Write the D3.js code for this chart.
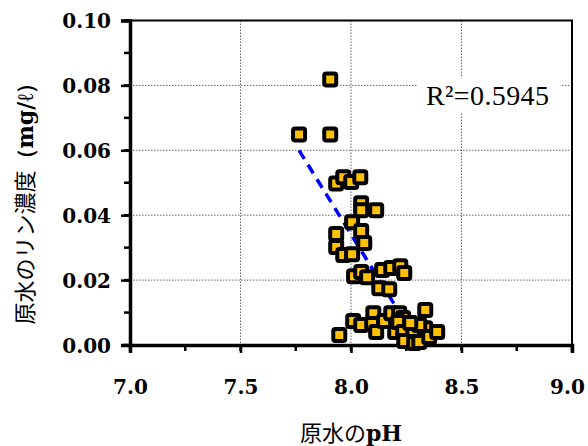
<!DOCTYPE html>
<html>
<head>
<meta charset="utf-8">
<script src="https://cdn.jsdelivr.net/npm/d3@7"></script>
<style>
  body { margin: 0; background: #fff; }
  svg { display: block; }
</style>
</head>
<body>
<script>
// pH of raw water
var phValues = [7.906, 7.765, 7.906, 7.933, 7.965, 8.001, 8.042, 8.046, 8.046, 8.114,
    8.005, 8.046, 7.933, 8.060, 7.933, 7.965, 8.005, 8.014, 8.046, 8.073,
    8.141, 8.182, 8.223, 8.241, 8.128, 8.173, 7.947, 8.010, 8.046, 8.101,
    8.096, 8.114, 8.150, 8.182, 8.200, 8.218, 8.236, 8.214, 8.236, 8.241,
    8.282, 8.286, 8.309, 8.336, 8.336, 8.354, 8.390, 8.309, 8.268];
// phosphorus concentration (mg/l)
var pValues = [0.0818, 0.0649, 0.0649, 0.0498, 0.0517, 0.0502, 0.0517, 0.0437, 0.0415, 0.0415,
    0.0378, 0.0351, 0.0342, 0.0314, 0.0302, 0.0277, 0.0280, 0.0212, 0.0225, 0.0209,
    0.0231, 0.0237, 0.0243, 0.0222, 0.0175, 0.0172, 0.0031, 0.0074, 0.0062, 0.0098,
    0.0065, 0.0040, 0.0074, 0.0098, 0.0040, 0.0098, 0.0083, 0.0071, 0.0040, 0.0012,
    0.0046, 0.0006, 0.0009, 0.0108, 0.0052, 0.0025, 0.0040, 0.0062, 0.0068];
// linear trend line end points
var trendX = [7.765, 8.31];
var trendY = [0.060, 0.0];
var xTicks = [7.0, 7.5, 8.0, 8.5, 9.0];
var yTicks = [0.00, 0.02, 0.04, 0.06, 0.08, 0.10];
var r2Label = "R²=0.5945";

var width = 588, height = 446;
var plotLeft = 130, plotRight = 572, plotTop = 20.5, plotBottom = 345;

var svg = d3.select("body").append("svg")
    .attr("width", width)
    .attr("height", height);

var x = d3.scaleLinear().domain([7, 9]).range([plotLeft, plotRight]);
var y = d3.scaleLinear().domain([0, 0.1]).range([plotBottom, plotTop]);

var numFont = "'DejaVu Serif', serif";
var jpFont = "'Noto Sans CJK JP', sans-serif";

// dotted grid lines
svg.append("g").selectAll("line")
    .data(xTicks.slice(1, -1))
    .enter().append("line")
    .attr("x1", function(d) { return x(d); })
    .attr("x2", function(d) { return x(d); })
    .attr("y1", plotTop)
    .attr("y2", plotBottom)
    .style("stroke", "#666")
    .style("stroke-width", 1)
    .style("stroke-dasharray", "1.5,1.5");
svg.append("g").selectAll("line")
    .data(yTicks.slice(1, -1))
    .enter().append("line")
    .attr("x1", plotLeft)
    .attr("x2", plotRight)
    .attr("y1", function(d) { return y(d); })
    .attr("y2", function(d) { return y(d); })
    .style("stroke", "#666")
    .style("stroke-width", 1)
    .style("stroke-dasharray", "1.5,1.5");

// thin top / right frame
svg.append("path")
    .attr("d", "M" + plotLeft + "," + plotTop + "H" + plotRight + "V" + plotBottom)
    .style("fill", "none")
    .style("stroke", "#000")
    .style("stroke-width", 2);

// minor ticks
svg.append("g").selectAll("line")
    .data(d3.range(0, 0.1001, 0.01))
    .enter().append("line")
    .attr("x1", plotLeft - 6).attr("x2", plotLeft)
    .attr("y1", function(d) { return y(d); })
    .attr("y2", function(d) { return y(d); })
    .style("stroke", "#000").style("stroke-width", 2.5);
svg.append("g").selectAll("line")
    .data(d3.range(7, 9.001, 0.25))
    .enter().append("line")
    .attr("x1", function(d) { return x(d); })
    .attr("x2", function(d) { return x(d); })
    .attr("y1", plotBottom).attr("y2", plotBottom + 6)
    .style("stroke", "#000").style("stroke-width", 2.5);

// axes
var yAxis = svg.append("g")
    .attr("transform", "translate(" + plotLeft + ",0)")
    .call(d3.axisLeft(y).tickValues(yTicks).tickFormat(d3.format(".2f")).tickSize(9).tickPadding(10));
var xAxis = svg.append("g")
    .attr("transform", "translate(0," + plotBottom + ")")
    .call(d3.axisBottom(x).tickValues(xTicks).tickFormat(d3.format(".1f")).tickSize(8).tickPadding(27));
[xAxis, yAxis].forEach(function(ax) {
    ax.select(".domain").style("stroke-width", 3.5);
    ax.selectAll(".tick line").style("stroke-width", 2.5);
    ax.selectAll("text")
        .style("font-family", numFont)
        .style("font-weight", "bold")
        .style("font-size", "20px")
        .style("fill", "#000");
});
yAxis.selectAll("text").attr("dy", "0.36em");
// last x label sits a little left so it stays inside the page
xAxis.selectAll(".tick text").filter(function(d) { return d === 9; }).attr("dx", -5);

// trend line
svg.append("line")
    .attr("x1", x(trendX[0])).attr("y1", y(trendY[0]))
    .attr("x2", x(trendX[1])).attr("y2", y(trendY[1]))
    .style("stroke", "#0000ff")
    .style("stroke-width", 3.5)
    .style("stroke-dasharray", "10,7");

// data markers
var points = phValues.map(function(d, i) { return {x: d, y: pValues[i]}; });
svg.append("g").selectAll("rect")
    .data(points)
    .enter().append("rect")
    .attr("x", function(d) { return x(d.x) - 6; })
    .attr("y", function(d) { return y(d.y) - 6; })
    .attr("width", 12)
    .attr("height", 12)
    .attr("rx", 2)
    .style("fill", "#ffc000")
    .style("stroke", "#000")
    .style("stroke-width", 4);

// R squared label with white box
svg.append("rect")
    .attr("x", 418).attr("y", 78)
    .attr("width", 142).attr("height", 34)
    .style("fill", "#fff");
svg.append("text")
    .attr("x", 426).attr("y", 105)
    .attr("textLength", 123)
    .style("font-family", "'Liberation Serif', serif")
    .style("font-size", "28px")
    .text(r2Label);

// axis titles
svg.append("text")
    .attr("x", x(8)).attr("y", 441)
    .attr("text-anchor", "middle")
    .style("font-family", jpFont)
    .style("font-size", "22px")
    .text("原水の")
    .append("tspan")
    .style("font-family", numFont)
    .style("font-weight", "bold")
    .text("pH");
svg.append("text")
    .attr("transform", "translate(33,198) rotate(-90)")
    .attr("text-anchor", "middle")
    .style("font-family", jpFont)
    .style("font-size", "22px")
    .text("原水のリン濃度")
    .append("tspan")
    .style("font-family", numFont)
    .style("font-weight", "bold")
    .text("（mg/ℓ）");
</script>
</body>
</html>
